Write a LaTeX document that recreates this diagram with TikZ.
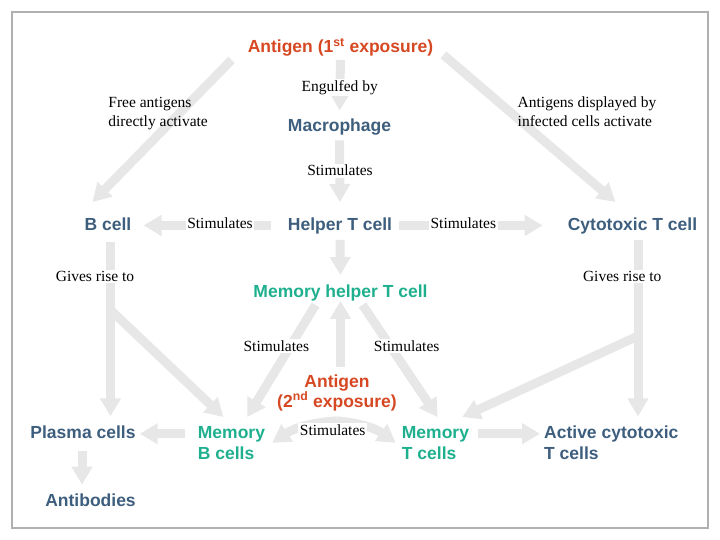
\documentclass[tikz,border=0pt]{standalone}
\usepackage{fontspec}
\setmainfont{Liberation Serif}
\setsansfont{Liberation Sans}
\usetikzlibrary{arrows.meta}
\definecolor{antigenred}{RGB}{214,72,34}
\definecolor{cellblue}{RGB}{62,94,126}
\definecolor{memoryteal}{RGB}{30,176,142}
\definecolor{arrowgray}{RGB}{231,231,231}
\definecolor{framegray}{RGB}{176,176,176}
\tikzset{fat/.style = {draw=arrowgray, line width=9pt,
                       -{Triangle[width=20pt,length=18pt]}},
         cell/.style = {font=\sffamily\bfseries\fontsize{17.5}{21}\selectfont,
                        inner sep=0pt, anchor=base},
         oneline/.style = {text height=12.8pt, text depth=3.7pt},
         note/.style = {font=\fontsize{15.5}{19}\selectfont, fill=white,
                        inner sep=1.5pt, anchor=base}}

\begin{document}
\begin{tikzpicture}[x=1pt,y=-1pt]
      \useasboundingbox (0,0) rectangle (720,540);
      \draw [framegray, line width=2pt] (12,12) rectangle (708,528);

      % cells
      \node [cell, oneline, text=antigenred] (ag1) at (340.5,53) {Antigen (1\textsuperscript{st} exposure)};
      \node [cell, oneline, text=cellblue] (macro) at (339.5,131.5) {Macrophage};
      \node [cell, oneline, text=cellblue] (bcell) at (108,230) {B cell};
      \node [cell, oneline, text=cellblue] (helper) at (340,230) {Helper T cell};
      \node [cell, oneline, text=cellblue] (cyto) at (632.5,230) {Cytotoxic T cell};
      \node [cell, oneline, text=memoryteal] (memhelper) at (340.5,297) {Memory helper T cell};
      \node [cell, text=antigenred, align=center, font=\sffamily\bfseries\fontsize{17.5}{20}\selectfont] (ag2) at (337,407) {Antigen\\(2\textsuperscript{nd} exposure)};
      \node [cell, oneline, text=cellblue] (plasma) at (83,438.3) {Plasma cells};
      \node [cell, text=memoryteal, align=left, anchor=base west] (memb) at (197.7,459.3) {Memory\\B cells};
      \node [cell, text=memoryteal, align=left, anchor=base west] (memt) at (401.7,459.3) {Memory\\T cells};
      \node [cell, text=cellblue, align=left, anchor=base west] (active) at (544,459.3) {Active cytotoxic\\T cells};
      \node [cell, oneline, text=cellblue] (antibodies) at (90.5,506.7) {Antibodies};

      \coordinate (bsplit) at (110.5,310);
      \coordinate (csplit) at (638,336);

      % arrows
      \draw [fat, shorten <=3pt, shorten >=8pt] (ag1.south) -- (macro.north);
      \draw [fat] ([xshift=-16pt,yshift=-3pt]ag1.south west) -- ([xshift=8pt,yshift=15pt]bcell.north west);
      \draw [fat] ([xshift=10pt,yshift=2pt]ag1.south east) -- ([xshift=-17pt,yshift=15pt]cyto.north);
      \draw [fat, shorten <=5pt, shorten >=15pt] (macro.south) -- (helper.north);
      \draw [fat, shorten <=17pt, shorten >=12pt] (helper.west |- bcell.east) -- (bcell.east);
      \draw [fat, shorten <=7pt, shorten >=25pt] (helper.east) -- (cyto.west);
      \draw [fat, shorten <=6pt, shorten >=9pt] (helper.south) -- (memhelper.north);
      \draw [fat, shorten <=7pt] (memhelper.south |- ag2.north) -- (memhelper.south);
      \draw [fat] ([xshift=-25pt,yshift=-4pt]memhelper.south) -- ([xshift=-18pt,yshift=9pt]memb.north east);
      \draw [fat] ([xshift=22pt,yshift=-4pt]memhelper.south) -- ([xshift=36pt,yshift=9pt]memt.north west);
      \draw [fat, shorten <=8pt, shorten >=9pt] ([xshift=2.5pt]bcell.south) -- ([xshift=2.5pt]bcell.south |- plasma.north);
      \draw [fat] (bsplit) -- ([xshift=-8pt,yshift=9pt]memb.north);
      \draw [fat, shorten <=6pt, shorten >=9pt] ([xshift=5.5pt]cyto.south) -- ([xshift=5.5pt]cyto.south |- active.north);
      \draw [fat] (csplit) -- ([xshift=-7pt,yshift=9pt]memt.north east);
      \draw [fat, shorten <=12.5pt, shorten >=4pt] (memb.west |- plasma.east) -- (plasma.east);
      \draw [fat, shorten <=9pt, shorten >=4pt] (memt.east |- plasma.east) -- (active.west |- plasma.east);
      \draw [fat, shorten <=9pt, shorten >=9pt] ([xshift=-1pt]plasma.south) -- ([xshift=-1pt]plasma.south |- antibodies.north);
      \draw [fat] ([yshift=-10pt]ag2.south) to [bend right=15] ([xshift=7pt]memb.east);
      \draw [fat] ([yshift=-10pt]ag2.south) to [bend left=15] ([xshift=-6pt]memt.west);

      % labels
      \node [note] (engulfed) at (339.7,91.5) {Engulfed by};
      \node [note, fill=none, align=left, anchor=base west] (free) at (106.7,127) {Free antigens\\directly activate};
      \node [note, fill=none, align=left, anchor=base west] (displayed) at (516,127) {Antigens displayed by\\infected cells activate};
      \node [note] (stimmacro) at (340,176) {Stimulates};
      \node [note] (stimb) at (220,228.3) {Stimulates};
      \node [note] (stimc) at (463.3,228.3) {Stimulates};
      \node [note] (riseb) at (95,281.7) {Gives rise to};
      \node [note] (risec) at (622.2,281.7) {Gives rise to};
      \node [note] (stimmb) at (276.3,351) {Stimulates};
      \node [note] (stimmt) at (406.7,351) {Stimulates};
      \node [note] (stimag) at (332.7,435) {Stimulates};
\end{tikzpicture}
\end{document}
